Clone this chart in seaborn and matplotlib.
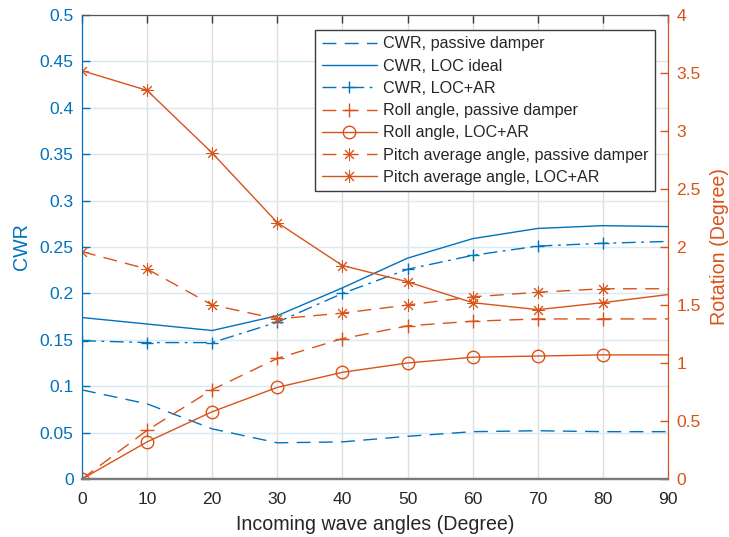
import matplotlib
matplotlib.use("Agg")
import matplotlib.pyplot as plt
import seaborn as sns

# Incoming wave angle (degree)
angles = [0, 10, 20, 30, 40, 50, 60, 70, 80, 90]

# Capture width ratio (left axis)
cwr_passive = [0.096, 0.081, 0.054, 0.039, 0.040, 0.046, 0.051, 0.052, 0.051, 0.051]
cwr_loc_ideal = [0.174, 0.167, 0.160, 0.176, 0.206, 0.238, 0.259, 0.270, 0.273, 0.272]
cwr_loc_ar = [0.149, 0.147, 0.147, 0.169, 0.200, 0.226, 0.241, 0.251, 0.254, 0.256]

# Rotation in degree (right axis)
roll_passive = [0.0, 0.42, 0.77, 1.04, 1.21, 1.32, 1.36, 1.38, 1.38, 1.38]
roll_loc_ar = [0.0, 0.32, 0.58, 0.79, 0.92, 1.00, 1.05, 1.06, 1.07, 1.07]
pitch_passive = [1.96, 1.81, 1.50, 1.38, 1.43, 1.50, 1.57, 1.61, 1.64, 1.64]
pitch_loc_ar = [3.52, 3.35, 2.81, 2.21, 1.84, 1.70, 1.52, 1.46, 1.52, 1.59]

left_ticks = [0, 0.05, 0.1, 0.15, 0.2, 0.25, 0.3, 0.35, 0.4, 0.45, 0.5]
left_ticklabels = ["0", "0.05", "0.1", "0.15", "0.2", "0.25", "0.3", "0.35", "0.4", "0.45", "0.5"]
right_ticks = [0, 0.5, 1, 1.5, 2, 2.5, 3, 3.5, 4]
right_ticklabels = ["0", "0.5", "1", "1.5", "2", "2.5", "3", "3.5", "4"]

BLUE = "#0072BD"
ORANGE = "#D95319"
BOX = "#3c3c3c"

sns.set_style("white")
plt.rcParams["font.family"] = ["Liberation Sans", "DejaVu Sans"]
plt.rcParams["lines.scale_dashes"] = False

fig = plt.figure(figsize=(7.29, 5.37), dpi=100)
ax = fig.add_axes([82 / 729, 58 / 537, 586 / 729, 464 / 537])
ax2 = ax.twinx()

dashed = (0, (10, 6))
dashdot = (0, (10, 4, 2, 4))
asterisk = (8, 2, 0)
marks = list(range(9))
lw = 1.0

sns.lineplot(x=angles, y=cwr_passive, ax=ax, color=BLUE, linewidth=lw,
             linestyle=dashed, label="CWR, passive damper")
sns.lineplot(x=angles, y=cwr_loc_ideal, ax=ax, color=BLUE, linewidth=lw,
             linestyle="-", label="CWR, LOC ideal")
sns.lineplot(x=angles, y=cwr_loc_ar, ax=ax, color=BLUE, linewidth=lw,
             linestyle=dashdot, marker="+", markersize=9, markeredgewidth=1.0,
             markeredgecolor=BLUE, markevery=marks, label="CWR, LOC+AR")

sns.lineplot(x=angles, y=roll_passive, ax=ax2, color=ORANGE, linewidth=lw,
             linestyle=dashed, marker="+", markersize=10, markeredgewidth=1.0,
             markeredgecolor=ORANGE, markevery=marks,
             label="Roll angle, passive damper")
sns.lineplot(x=angles, y=roll_loc_ar, ax=ax2, color=ORANGE, linewidth=lw,
             linestyle="-", marker="o", markersize=9, markerfacecolor="none",
             markeredgecolor=ORANGE, markeredgewidth=1.0, markevery=marks,
             label="Roll angle, LOC+AR")
sns.lineplot(x=angles, y=pitch_passive, ax=ax2, color=ORANGE, linewidth=lw,
             linestyle=dashed, marker=asterisk, markersize=9, markeredgewidth=0.7,
             markeredgecolor=ORANGE, markevery=marks,
             label="Pitch average angle, passive damper")
sns.lineplot(x=angles, y=pitch_loc_ar, ax=ax2, color=ORANGE, linewidth=lw,
             linestyle="-", marker=asterisk, markersize=9, markeredgewidth=0.7,
             markeredgecolor=ORANGE, markevery=marks,
             label="Pitch average angle, LOC+AR")

for a in (ax, ax2):
    leg = a.get_legend()
    if leg is not None:
        leg.remove()

ax.set_xlim(0, 90)
ax.set_ylim(0, 0.5)
ax2.set_ylim(0, 4)
ax.set_xticks(angles)
ax.set_yticks(left_ticks)
ax.set_yticklabels(left_ticklabels)
ax2.set_yticks(right_ticks)
ax2.set_yticklabels(right_ticklabels)

tick_fs = 12.6
label_fs = 14.1
ax.tick_params(axis="x", direction="in", length=6, width=1.0, color=BOX,
               labelcolor="#262626", labelsize=tick_fs, pad=9, top=True)
ax.tick_params(axis="y", direction="in", length=6, width=1.0, color=BLUE,
               labelcolor=BLUE, labelsize=tick_fs, pad=6, right=False)
ax2.tick_params(axis="y", direction="in", length=6, width=1.0, color=ORANGE,
                labelcolor=ORANGE, labelsize=tick_fs, pad=6)

ax.grid(True, axis="x", color="#dfdfdf", linewidth=1.0)
ax.grid(True, axis="y", color="#d9eaf5", linewidth=1.0)
ax.set_axisbelow(True)

ax.set_xlabel("Incoming wave angles (Degree)", fontsize=label_fs, color="#262626", labelpad=6)
ax.set_ylabel("CWR", fontsize=label_fs, color=BLUE, labelpad=6)
ax2.set_ylabel("Rotation (Degree)", fontsize=label_fs, color=ORANGE, labelpad=6.5)

for a in (ax, ax2):
    a.spines["top"].set_color("#555555")
    a.spines["bottom"].set_color("#7a7a7a")
    a.spines["bottom"].set_linewidth(1.6)
    a.spines["left"].set_color(BLUE)
    a.spines["right"].set_color(ORANGE)
    for s in a.spines.values():
        s.set_visible(True)

h1, l1 = ax.get_legend_handles_labels()
h2, l2 = ax2.get_legend_handles_labels()
legend = ax2.legend(h1 + h2, l1 + l2, loc="upper right",
                    bbox_to_anchor=(573 / 586, 449 / 464), fontsize=11.6,
                    numpoints=1, handlelength=3.4, handletextpad=0.4,
                    labelspacing=0.45, borderpad=0.4, borderaxespad=0.0,
                    fancybox=False, framealpha=1.0, edgecolor="#3c3c3c")
legend.get_frame().set_linewidth(1.0)

fig.savefig("out.png", dpi=100)
